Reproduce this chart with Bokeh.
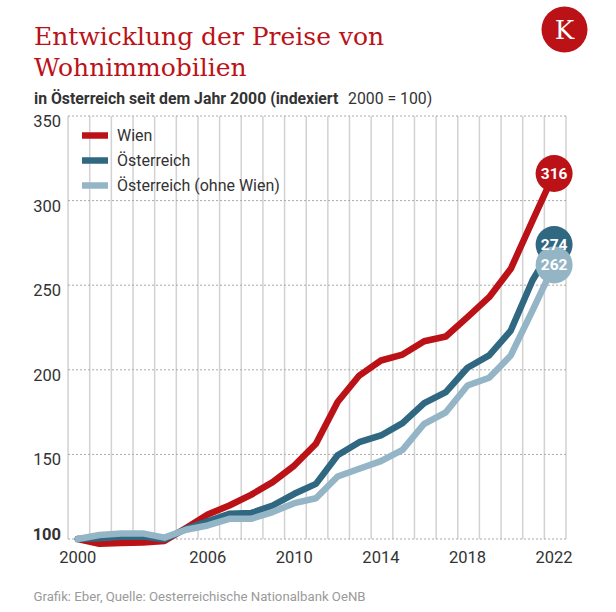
from bokeh.plotting import figure
from bokeh.models import Range1d, Legend, LegendItem, ColumnDataSource
from bokeh.embed import file_html
from bokeh.resources import INLINE
from bokeh.core.properties import value

# ---------------- data ----------------
years = list(range(2000, 2023))
wien = [100, 97.2, 97.7, 98.0, 98.8, 106.5, 114.5, 119.8, 126.1, 133.6, 143.4, 156.3,
        181.0, 196.6, 205.5, 209.0, 216.9, 219.7, 231.1, 242.9, 259.7, 288.0, 316]
oesterreich = [100, 100.5, 101.3, 101.5, 99.8, 106.0, 110.5, 114.9, 115.3, 119.8, 126.7, 132.6,
               149.5, 157.2, 161.2, 168.5, 180.3, 186.8, 201.2, 208.5, 223.2, 252.8, 274]
ohne_wien = [100, 102.4, 103.2, 103.3, 100.8, 105.5, 108.0, 111.9, 111.9, 115.9, 121.2, 124.1,
             136.9, 141.5, 146.0, 152.7, 168.1, 174.9, 190.7, 195.3, 208.5, 235.0, 262]
series_names = ["Wien", "Österreich", "Österreich (ohne Wien)"]
x_ticks = [2000, 2006, 2010, 2014, 2018, 2022]
y_ticks = [100, 150, 200, 250, 300, 350]

title_lines = ["Entwicklung der Preise von", "Wohnimmobilien"]
subtitle_bold = "in Österreich seit dem Jahr 2000 (indexiert"
subtitle_regular = "2000 = 100)"
footer = "Grafik: Eber, Quelle: Oesterreichische Nationalbank OeNB"
logo_text = "K"

# ---------------- style / layout ----------------
RED = "#bb1218"
DARK = "#2f6880"
LIGHT = "#94b5c6"
TXT = "#333333"
FONT = "Roboto"
SERIF = "DejaVu Serif"

W, H = 616, 612
PX_YEAR = 21.65          # pixels per year
PX_UNIT = 1.692          # pixels per index point
X_ORIGIN_PX = 77.3       # pixel x of year 2000
Y_ORIGIN_PX = 538.5      # pixel y of index 100

def dx(px):
    return years[0] + (px - X_ORIGIN_PX) / PX_YEAR

def dy(py):
    return y_ticks[0] + (Y_ORIGIN_PX - py) / PX_UNIT

p = figure(width=W, height=H, output_backend="svg", toolbar_location=None,
           x_range=Range1d(dx(0), dx(W)), y_range=Range1d(dy(H), dy(0)),
           x_axis_location=None, y_axis_location=None, min_border=0)
p.outline_line_color = None
p.xgrid.visible = False
p.ygrid.visible = False
p.background_fill_color = "white"
p.border_fill_color = "white"

# grid
half = 0.45
gx = [y - half for y in years] + [years[-1] + 1 - half]
p.segment(x0=gx, y0=[y_ticks[0]] * len(gx), x1=gx, y1=[y_ticks[-1]] * len(gx),
          line_color="#d2d2d2", line_width=1.5)
p.segment(x0=[gx[0]] * len(y_ticks), y0=y_ticks, x1=[gx[-1]] * len(y_ticks), y1=y_ticks,
          line_color="#a8a8a8", line_width=1, line_dash="2 2")

# tick labels
p.text(x=[gx[0]] * (len(y_ticks) - 1), y=y_ticks[1:], text=[str(t) for t in y_ticks[1:]],
       x_offset=-7, y_offset=5, text_font=value(FONT), text_font_size="16.5px",
       text_color=TXT, text_align="right", text_baseline="middle")
p.text(x=[gx[0]], y=[y_ticks[0]], text=[str(y_ticks[0])],
       x_offset=-7, y_offset=-5, text_font=value(FONT), text_font_size="16.5px",
       text_font_style="bold", text_color=TXT, text_align="right", text_baseline="middle")
p.text(x=x_ticks, y=[dy(556)] * len(x_ticks), text=[str(t) for t in x_ticks],
       text_font=value(FONT), text_font_size="16.5px", text_color=TXT,
       text_align="center", text_baseline="middle")

# lines
src = ColumnDataSource(dict(x=years, w=wien, o=oesterreich, ow=ohne_wien))
rw = p.line("x", "w", source=src, line_color=RED, line_width=6.5, line_join="round", line_cap="round")
ro = p.line("x", "o", source=src, line_color=DARK, line_width=6.5, line_join="round", line_cap="round")
rl = p.line("x", "ow", source=src, line_color=LIGHT, line_width=6.5, line_join="round", line_cap="round")

# end markers
ends = ColumnDataSource(dict(
    x=[years[-1]] * 3,
    y=[wien[-1], oesterreich[-1], ohne_wien[-1]],
    c=[RED, DARK, LIGHT],
    t=[str(wien[-1]), str(oesterreich[-1]), str(ohne_wien[-1])],
))
p.scatter("x", "y", source=ends, size=37, fill_color="c", line_color=None)
p.text("x", "y", text="t", source=ends, text_font=value(FONT), text_font_size="15.5px",
       text_font_style="bold", text_color="white", text_align="center", text_baseline="middle")

# legend
legend = Legend(items=[LegendItem(label=series_names[0], renderers=[rw]),
                       LegendItem(label=series_names[1], renderers=[ro]),
                       LegendItem(label=series_names[2], renderers=[rl])],
                location=(82, 417), padding=0, margin=0, spacing=5,
                glyph_width=26, glyph_height=20, label_height=20, label_standoff=9,
                label_text_font=FONT, label_text_font_size="16px", label_text_color=TXT,
                background_fill_alpha=0, border_line_color=None)
p.add_layout(legend)

# titles
p.text(x=[dx(33.5)] * 2, y=[dy(36), dy(67)], text=title_lines, text_font=value(SERIF),
       text_font_size="25px", text_color=RED, text_baseline="alphabetic")
p.text(x=[dx(33.5)], y=[dy(97.5)], text=[subtitle_bold], text_font=value(FONT),
       text_font_size="15.8px", text_font_style="bold", text_color=TXT, text_baseline="alphabetic")
p.text(x=[dx(347.5)], y=[dy(97.5)], text=[subtitle_regular], text_font=value(FONT),
       text_font_size="15.8px", text_color=TXT, text_baseline="alphabetic")
p.text(x=[dx(33)], y=[dy(596)], text=[footer], text_font=value(FONT),
       text_font_size="13.2px", text_color="#9a9a9a", text_baseline="alphabetic")

# logo
p.scatter(x=[dx(564)], y=[dy(29)], size=46, fill_color=RED, line_color=None)
p.text(x=[dx(564)], y=[dy(29)], text=[logo_text], text_font=value(SERIF), text_font_size="26px",
       text_color="white", text_align="center", text_baseline="middle")

open("out.html", "w").write(file_html(p, INLINE))
